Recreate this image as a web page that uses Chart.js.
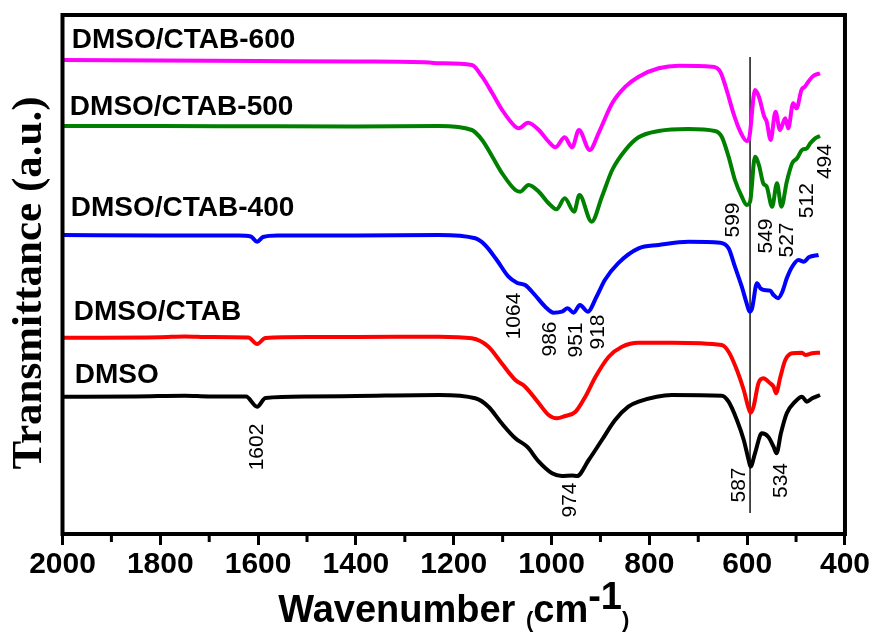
<!DOCTYPE html>
<html>
<head>
<meta charset="utf-8">
<script src="https://cdn.jsdelivr.net/npm/chart.js@4/dist/chart.umd.min.js"></script>
<style>
  html, body { margin: 0; padding: 0; background: #fff; }
  #c { display: block; }
</style>
</head>
<body>
<canvas id="c" width="872" height="637"></canvas>
<script>
// ---------- DATA (wavenumber in cm-1, transmittance in arbitrary offset units) ----------
const xTicks = [2000, 1800, 1600, 1400, 1200, 1000, 800, 600, 400];

const wnDMSO = [2000,1850,1750,1700,1625,1602,1585,1500,1400,1230,1156,1129,1102,1074,1050,1026,999,979,958,948,924,897,870,843,822,754,652,638,621,607,597,593,584,570,557,546,540,531,519,502,488,478,467,451];
const tDMSO  = [137.3,137.5,138.3,137.5,137.5,127.3,136,137.5,138,139,135.7,127.3,110.7,95.7,87.3,72.3,60.7,58,58.5,58,74,94,114,127.3,132.3,139,138.3,132.3,114,94,74,67.3,80.7,100.7,97.3,87.3,80.7,100.7,120.7,132.3,137.3,132.3,135.7,139];

const wnCTAB = [2000,1800,1750,1700,1620,1602,1585,1500,1400,1230,1163,1129,1102,1074,1054,1026,1006,989,972,951,931,910,883,856,822,754,652,638,621,607,597,593,587,577,567,553,546,541,532,522,508,488,481,467,451];
const tCTAB  = [196.3,196.8,197.6,197,196.5,190,196,197,197,197.3,195.7,187.3,170.7,154,147.3,130.7,119,115.7,118,122.3,137.3,157.3,177.3,187.3,191.3,191.3,189,182.3,164,144,125.7,121.3,127.3,150.7,155.7,150.7,147.3,140.7,157.3,174,180.7,181.3,179,180.7,181.3];

const wn400 = [2000,1800,1640,1615,1602,1590,1560,1400,1230,1156,1136,1112,1088,1071,1054,1034,1013,996,979,967,955,942,926,908,891,864,822,781,720,655,638,625,611,601,595,590,580,573,566,553,546,537,528,519,508,495,484,474,454];
const t400  = [299,298.5,298.5,297.5,292.3,297,298.5,298.5,299,295.7,289,274,257.3,251.3,249,239,227.3,221.3,222.3,225.7,221.3,229,222.3,237.3,254,270.7,285.7,289,292.3,291.3,285.7,267.3,247.3,230.7,222.3,225.7,250.7,245.7,244,243.3,239,235.7,242.3,255.7,267.3,274,272.3,276.7,279];

const wn500 = [2000,1800,1600,1400,1230,1163,1142,1121,1101,1074,1064,1047,1026,1006,990,973,954,943,918,897,876,849,822,781,720,666,652,638,625,611,601,594,584,576,567,560,549,539,530,519,508,498,488,478,471,461,451];
const t500  = [408,408,407.7,407.5,408,404,394,377.3,360.7,344,342.3,349,342.3,330.7,324.7,335.7,322.3,339,312.3,337.3,364,384,396.7,403,405,403,397.3,377.3,354,337.3,329,332.3,377.3,369,350.7,347.3,327.3,350.7,327.3,352.3,370.7,375.7,384,385.7,390.7,395.7,398];

const wn600 = [2000,1800,1600,1400,1250,1230,1163,1142,1121,1101,1074,1067,1048,1026,1006,992,973,958,944,922,904,876,849,822,781,740,672,655,642,628,614,601,596,584,576,565,560,552,542,533,522,516,506,499,489,482,475,465,451];
const t600  = [474,473.5,473,472.5,471.5,470.7,469,457.3,440.7,424,407.3,405.7,411.3,404,392.3,386.7,396.7,386.7,404,384,400.7,430.7,447.3,457.3,465.7,468.3,467.3,462.3,444,420.7,402.3,393,395.7,444,437.3,417.3,412.3,394,422.3,404,415.7,405.7,430.7,425.7,444,447.3,452.3,458,460.7];

// reference marker line (at the 587 cm-1 band)
const markerWn = [594, 594];
const markerT  = [477, 21];

// peak annotations: label, wavenumber position, vertical position
const peakLabels = ['1602','1064','986','951','918','974','587','534','599','549','527','512','494'];
const peakWn     = [1603.5,1079,1005.5,951,907.6,964.7,619,532.7,630,563.3,520,480,442];
const peakT      = [87,218,195,194,202,34,49,53.5,314,298,294,333.3,372.4];

// series names and where their names sit
const seriesNames = ['DMSO/CTAB-600','DMSO/CTAB-500','DMSO/CTAB-400','DMSO/CTAB','DMSO'];
const seriesColors = ['#FF00FF','#008000','#0000FF','#FF0000','#000000'];
const nameWn = [1981,1985,1983,1977,1975];
const nameT  = [494,427,326,222,159];

// ---------- CHART ----------
const SANS = "'Liberation Sans', Arial, sans-serif";
const SERIF = "'Liberation Serif', 'Times New Roman', serif";

function pts(xs, ys) { return xs.map((x, i) => ({ x: x, y: ys[i] })); }

const seriesData = [pts(wn600, t600), pts(wn500, t500), pts(wn400, t400), pts(wnCTAB, tCTAB), pts(wnDMSO, tDMSO)];

const datasets = seriesNames.map((n, i) => ({
  label: n,
  data: seriesData[i],
  borderColor: seriesColors[i],
  borderWidth: 4,
  pointRadius: 0,
  fill: false,
  cubicInterpolationMode: 'monotone'
}));
datasets.push({
  label: 'marker',
  data: pts(markerWn, markerT),
  borderColor: '#333',
  borderWidth: 1,
  pointRadius: 0,
  fill: false
});

const decor = {
  id: 'decor',
  afterDraw(chart) {
    const ctx = chart.ctx;
    const a = chart.chartArea;
    const xs = chart.scales.x, ys = chart.scales.y;
    ctx.save();
    // frame
    ctx.strokeStyle = '#000';
    ctx.lineWidth = 4;
    ctx.strokeRect(a.left, a.top, a.right - a.left, a.bottom - a.top);
    // minor ticks
    ctx.lineWidth = 3;
    for (let v = 1900; v > 400; v -= 200) {
      const px = xs.getPixelForValue(v);
      ctx.beginPath();
      ctx.moveTo(px, a.bottom);
      ctx.lineTo(px, a.bottom + 8);
      ctx.stroke();
    }
    // series names
    ctx.fillStyle = '#000';
    ctx.textAlign = 'left';
    ctx.textBaseline = 'middle';
    ctx.font = "bold 28px " + SANS;
    seriesNames.forEach((n, i) => {
      ctx.fillText(n, xs.getPixelForValue(nameWn[i]), ys.getPixelForValue(nameT[i]));
    });
    // peak labels (rotated)
    ctx.font = "21px " + SANS;
    ctx.textAlign = 'center';
    peakLabels.forEach((t, i) => {
      ctx.save();
      ctx.translate(xs.getPixelForValue(peakWn[i]), ys.getPixelForValue(peakT[i]));
      ctx.rotate(-Math.PI / 2);
      ctx.fillText(t, 0, 1);
      ctx.restore();
    });
    // y title
    ctx.save();
    ctx.font = "bold 43px " + SERIF;
    ctx.translate(30, 283);
    ctx.rotate(-Math.PI / 2);
    ctx.textAlign = 'center';
    ctx.textBaseline = 'middle';
    ctx.fillText('Transmittance (a.u.)', 0, 0);
    ctx.restore();
    // x title: Wavenumber (cm-1)
    const big = "bold 38px " + SANS;
    const small = "bold 22px " + SANS;
    const parts = [
      { t: 'Wavenumber ', f: big, dy: 0 },
      { t: '(', f: small, dy: 5 },
      { t: 'cm', f: big, dy: 0 },
      { t: '-1', f: big, dy: -13 },
      { t: ')', f: small, dy: 5 }
    ];
    let total = 0;
    parts.forEach(p => { ctx.font = p.f; p.w = ctx.measureText(p.t).width; total += p.w; });
    let x = (a.left + a.right) / 2 - total / 2;
    const base = 622;
    ctx.textAlign = 'left';
    ctx.textBaseline = 'alphabetic';
    parts.forEach(p => { ctx.font = p.f; ctx.fillText(p.t, x, base + p.dy); x += p.w; });
    ctx.restore();
  }
};

new Chart(document.getElementById('c'), {
  type: 'line',
  data: { datasets: datasets },
  options: {
    responsive: false,
    animation: false,
    layout: { padding: { left: 62.5, right: 23, top: 15, bottom: 0 } },
    plugins: { legend: { display: false }, tooltip: { enabled: false } },
    scales: {
      x: {
        type: 'linear',
        min: 400, max: 2000,
        reverse: true,
        afterBuildTicks(scale) { scale.ticks = xTicks.map(v => ({ value: v })); },
        afterFit(scale) { scale.height = 103; },
        ticks: {
          color: '#000',
          font: { family: SANS, size: 30, weight: 'bold' },
          padding: 2,
          maxRotation: 0,
          autoSkip: false,
          callback: (v) => String(v)
        },
        grid: { drawOnChartArea: false, tickLength: 11, tickWidth: 3, tickColor: '#000' },
        border: { display: false }
      },
      y: { display: false, min: 0, max: 519 }
    }
  },
  plugins: [decor]
});
</script>
</body>
</html>
